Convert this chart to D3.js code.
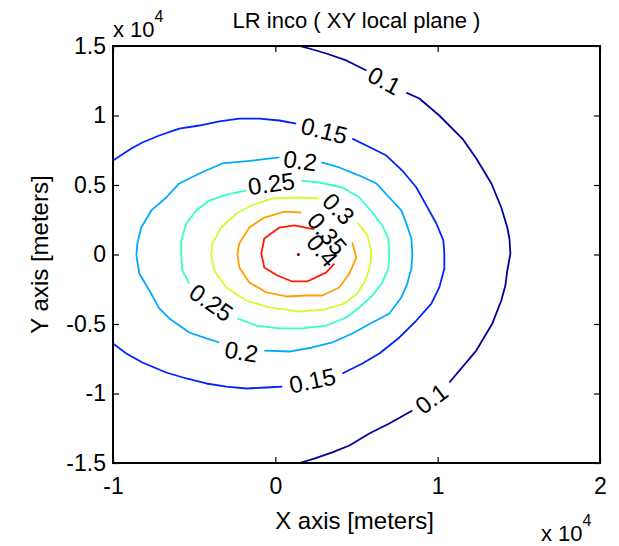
<!DOCTYPE html>
<html>
<head>
<meta charset="utf-8">
<script src="https://cdn.jsdelivr.net/npm/d3@7"></script>
<style>
  body { margin: 0; background: #fff; }
  text { font-family: "Liberation Sans", Arial, sans-serif; fill: #000; }
</style>
</head>
<body>
<div id="chart"></div>
<script>
// contour levels (x, y in units of 1e4 m)
var levels = [0.1, 0.15, 0.2, 0.25, 0.3, 0.35, 0.4];
var levelColors = ["#00009c", "#0022ff", "#00aaff", "#33ffcc", "#ccff33", "#ffa000", "#ff1a00"];

var xTicks = [-1, 0, 1, 2];
var xTickLabels = ["-1", "0", "1", "2"];
var yTicks = [-1.5, -1, -0.5, 0, 0.5, 1, 1.5];
var yTickLabels = ["-1.5", "-1", "-0.5", "0", "0.5", "1", "1.5"];

// each contour is a list of segments (gaps where labels sit)
var c010 = [
  [[0.148,1.5],[0.209,1.482],[0.314,1.446],[0.437,1.396],[0.561,1.324]],
  [[0.807,1.165],[0.887,1.122],[1.010,1.000],[1.152,0.834],[1.238,0.691],[1.331,0.511],[1.392,0.338],
   [1.429,0.194],[1.442,0.115],[1.448,0.007],[1.429,-0.115],[1.417,-0.223],[1.392,-0.331],[1.337,-0.496],
   [1.238,-0.691],[1.072,-0.921]],
  [[0.844,-1.122],[0.702,-1.216],[0.579,-1.288],[0.456,-1.374],[0.351,-1.424],[0.240,-1.468],[0.148,-1.5]]
];
var c015 = [
  [[-1.0,0.676],[-0.887,0.763],[-0.819,0.806],[-0.715,0.856],[-0.592,0.906],[-0.468,0.928],[-0.345,0.957],
   [-0.222,0.978],[-0.099,0.978],[0.025,0.964],[0.129,0.942]],
  [[0.474,0.834],[0.561,0.784],[0.684,0.712],[0.782,0.604],[0.869,0.482],[0.930,0.353],[0.992,0.223],
   [1.035,0.101],[1.041,0.007],[1.041,-0.101],[1.010,-0.237],[0.961,-0.353],[0.869,-0.475],[0.764,-0.597],
   [0.641,-0.712],[0.536,-0.784],[0.413,-0.856]],
  [[0.043,-0.950],[-0.055,-0.957],[-0.179,-0.964],[-0.302,-0.950],[-0.425,-0.928],[-0.548,-0.892],
   [-0.672,-0.849],[-0.819,-0.777],[-0.918,-0.712],[-1.0,-0.640]]
];
var c020 = [
  [[0.283,0.662],[0.394,0.626],[0.518,0.568],[0.622,0.511],[0.702,0.410],[0.776,0.317],[0.807,0.223],
   [0.838,0.115],[0.844,0.007],[0.838,-0.101],[0.813,-0.209],[0.776,-0.309],[0.702,-0.424],[0.598,-0.489],
   [0.474,-0.568],[0.351,-0.633],[0.228,-0.669],[0.086,-0.698],[-0.068,-0.691]],
  [[-0.345,-0.633],[-0.425,-0.604],[-0.530,-0.561],[-0.653,-0.460],[-0.715,-0.388],[-0.776,-0.259],
   [-0.838,-0.137],[-0.856,-0.007],[-0.850,0.079],[-0.826,0.194],[-0.764,0.317],[-0.672,0.410],
   [-0.592,0.511],[-0.468,0.583],[-0.327,0.655],[-0.142,0.676],[0.025,0.698]]
];
var c025 = [
  [[0.160,0.532],[0.271,0.518],[0.413,0.482],[0.518,0.410],[0.598,0.302],[0.659,0.209],[0.696,0.115],
   [0.702,0.007],[0.696,-0.101],[0.659,-0.201],[0.598,-0.295],[0.518,-0.381],[0.437,-0.453],[0.314,-0.511],
   [0.166,-0.532],[0.025,-0.532],[-0.117,-0.511],[-0.234,-0.460]],
  [[-0.530,-0.209],[-0.573,-0.115],[-0.579,-0.022],[-0.579,0.101],[-0.548,0.223],[-0.487,0.317],
   [-0.407,0.388],[-0.296,0.432],[-0.179,0.460]]
];
var c030 = [
  [[0.505,0.230],[0.567,0.137],[0.591,0.029],[0.585,-0.079],[0.555,-0.187],[0.505,-0.281],[0.425,-0.353],
   [0.302,-0.396],[0.148,-0.410],[-0.037,-0.381],[-0.179,-0.331],[-0.302,-0.237],[-0.376,-0.115],
   [-0.394,-0.007],[-0.388,0.079],[-0.333,0.194],[-0.240,0.295],[-0.148,0.353],[-0.018,0.403],
   [0.148,0.410],[0.271,0.403]]
];
var c035 = [
  [[0.474,0.086],[0.499,-0.022],[0.456,-0.137],[0.394,-0.237],[0.290,-0.295],[0.191,-0.295],[0.068,-0.302],
   [-0.055,-0.273],[-0.160,-0.201],[-0.222,-0.094],[-0.234,0.007],[-0.222,0.079],[-0.160,0.194],
   [-0.068,0.266],[0.055,0.309],[0.160,0.302]]
];
var c040 = [
  [[0.240,0.180],[0.117,0.209],[0.025,0.194],[-0.068,0.115],[-0.086,0.007],[-0.068,-0.094],[0.012,-0.151],
   [0.105,-0.194],[0.197,-0.194],[0.314,-0.129],[0.364,-0.065]]
];
var contourLines = [c010, c015, c020, c025, c030, c035, c040];

var peak = [0.142, 0.0];

// inline contour labels: [level, x, y, angle]
var contourLabels = [
  [0.1, 0.672, 1.252, 28],
  [0.1, 0.961, -1.036, -37],
  [0.15, 0.302, 0.892, 14],
  [0.15, 0.228, -0.906, -12],
  [0.2, 0.154, 0.676, 8],
  [0.2, -0.209, -0.698, 10],
  [0.25, -0.025, 0.511, -8],
  [0.25, -0.394, -0.345, 35],
  [0.3, 0.390, 0.330, 45],
  [0.35, 0.320, 0.150, 50],
  [0.4, 0.290, 0.030, 50]
];

var svgWidth = 619;
var svgHeight = 546;
var margin = { top: 46, right: 19, bottom: 83, left: 113 };
var width = svgWidth - margin.left - margin.right;
var height = svgHeight - margin.top - margin.bottom;

var svg = d3.select("#chart").append("svg")
  .attr("width", svgWidth)
  .attr("height", svgHeight);

var g = svg.append("g")
  .attr("transform", `translate(${margin.left}, ${margin.top})`);

var x = d3.scaleLinear().domain([-1, 2]).range([0, width]);
var y = d3.scaleLinear().domain([-1.5, 1.5]).range([height, 0]);

svg.append("defs").append("clipPath").attr("id", "plotClip")
  .append("rect").attr("width", width).attr("height", height);

var line = d3.line().x(d => x(d[0])).y(d => y(d[1]));

var plot = g.append("g").attr("clip-path", "url(#plotClip)");

contourLines.forEach(function(segs, i) {
  plot.selectAll(null)
    .data(segs)
    .enter()
    .append("path")
    .attr("d", line)
    .attr("fill", "none")
    .attr("stroke", levelColors[i])
    .attr("stroke-width", 1.8)
    .attr("stroke-linejoin", "round");
});

plot.append("circle")
  .attr("cx", x(peak[0]))
  .attr("cy", y(peak[1]))
  .attr("r", 1.5)
  .attr("fill", "#800000");

g.selectAll(".clabel")
  .data(contourLabels)
  .enter()
  .append("text")
  .attr("class", "clabel")
  .attr("transform", d => `translate(${x(d[1])}, ${y(d[2])}) rotate(${d[3]})`)
  .attr("text-anchor", "middle")
  .attr("dy", "0.36em")
  .style("font-size", "24px")
  .text(d => String(d[0]));

// axes, MATLAB style (ticks inside, on all four sides)
var tickLen = 6;
var xAxis = g.append("g")
  .attr("transform", `translate(0, ${height})`)
  .call(d3.axisBottom(x).tickValues(xTicks).tickFormat((d, i) => xTickLabels[i])
    .tickSizeInner(-tickLen).tickSizeOuter(0).tickPadding(15));
var yAxis = g.append("g")
  .call(d3.axisLeft(y).tickValues(yTicks).tickFormat((d, i) => yTickLabels[i])
    .tickSizeInner(-tickLen).tickSizeOuter(0).tickPadding(7));
var xTop = g.append("g")
  .call(d3.axisTop(x).tickValues(xTicks).tickFormat("").tickSizeInner(-tickLen).tickSizeOuter(0));
var yRight = g.append("g")
  .attr("transform", `translate(${width}, 0)`)
  .call(d3.axisRight(y).tickValues(yTicks).tickFormat("").tickSizeInner(-tickLen).tickSizeOuter(0));

[xAxis, yAxis, xTop, yRight].forEach(function(a) {
  a.select(".domain").remove();
  a.selectAll("line").attr("stroke", "#000").attr("stroke-width", 1.2);
  a.selectAll("text").style("font-size", "23px").style("font-family", "Liberation Sans, Arial, sans-serif").attr("fill", "#000");
});

g.append("rect")
  .attr("width", width)
  .attr("height", height)
  .attr("fill", "none")
  .attr("stroke", "#000")
  .attr("stroke-width", 2);

// title and labels
svg.append("text")
  .attr("x", margin.left + width / 2)
  .attr("y", 28)
  .attr("text-anchor", "middle")
  .style("font-size", "22px")
  .text("LR inco ( XY local plane )");

svg.append("text")
  .attr("x", margin.left + width / 2 - 2)
  .attr("y", 529)
  .attr("text-anchor", "middle")
  .style("font-size", "24px")
  .text("X axis [meters]");

svg.append("text")
  .attr("transform", `translate(48, ${margin.top + height / 2}) rotate(-90)`)
  .attr("text-anchor", "middle")
  .style("font-size", "24px")
  .text("Y axis [meters]");

// exponent labels
var expTop = svg.append("text").attr("x", 113).attr("y", 37).style("font-size", "22px");
expTop.append("tspan").text("x 10");
expTop.append("tspan").attr("dy", -15).style("font-size", "16px").text("4");

var expBot = svg.append("text").attr("x", 541).attr("y", 541).style("font-size", "22px");
expBot.append("tspan").text("x 10");
expBot.append("tspan").attr("dy", -15).style("font-size", "16px").text("4");
</script>
</body>
</html>
